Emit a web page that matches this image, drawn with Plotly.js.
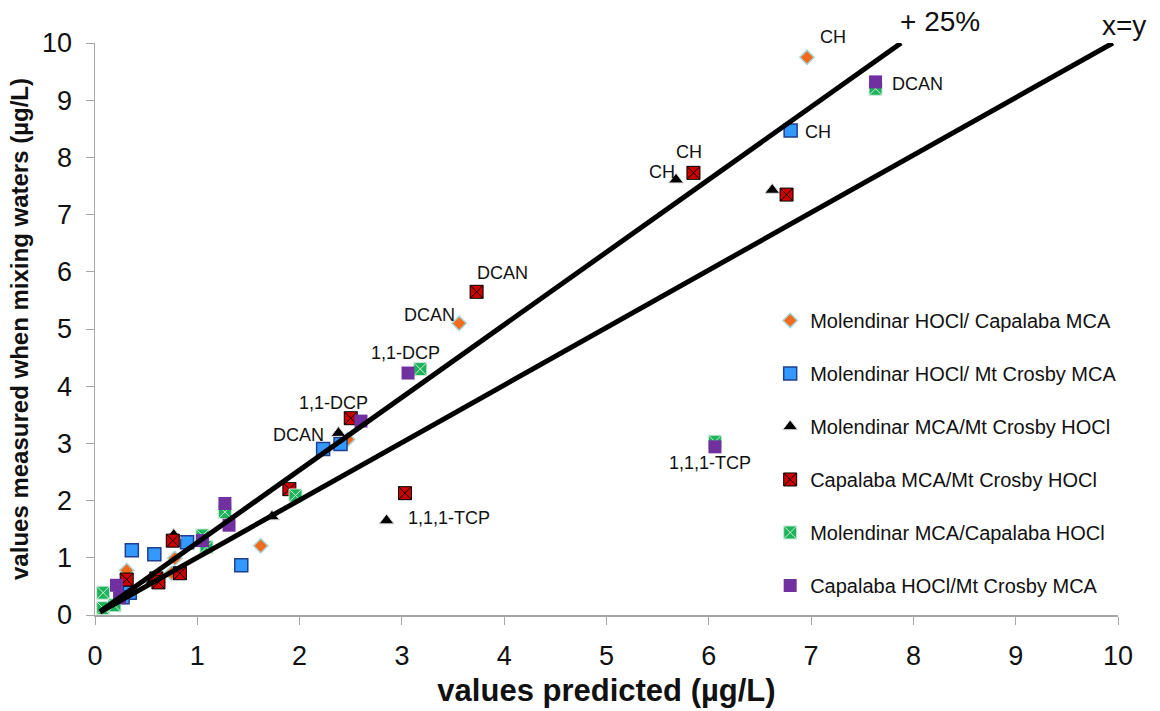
<!DOCTYPE html>
<html>
<head>
<meta charset="utf-8">
<script src="https://cdn.plot.ly/plotly-3.0.1.min.js"></script>
<style>html,body{margin:0;padding:0;background:#fff;}#chart{width:1160px;height:711px;}</style>
</head>
<body>
<div id="chart"></div>
<script>
// Series data (predicted, measured) in µg/L
const seriesNames = [
  "Molendinar HOCl/ Capalaba MCA",
  "Molendinar HOCl/ Mt Crosby MCA",
  "Molendinar MCA/Mt Crosby HOCl",
  "Capalaba MCA/Mt Crosby HOCl",
  "Molendinar MCA/Capalaba HOCl",
  "Capalaba HOCl/Mt Crosby MCA"
];
const orangeX = [6.96, 3.56, 1.62, 2.47, 0.31, 0.78, 0.75, 0.31];
const orangeY = [9.75, 5.10, 1.21, 3.07, 0.71, 0.99, 0.73, 0.78];
const blueX = [6.80, 2.23, 2.40, 0.36, 0.58, 0.90, 1.43, 0.34, 0.27];
const blueY = [8.47, 2.90, 2.99, 1.13, 1.06, 1.27, 0.87, 0.39, 0.31];
const triX = [5.68, 6.62, 2.38, 1.73, 2.85, 0.77, 0.56, 0.62];
const triY = [7.61, 7.43, 3.18, 1.72, 1.65, 1.40, 0.60, 0.62];
const redX = [5.85, 6.76, 3.73, 2.50, 1.90, 3.03, 0.76, 0.31, 0.60, 0.62, 0.83];
const redY = [7.73, 7.35, 5.65, 3.44, 2.20, 2.13, 1.30, 0.62, 0.64, 0.57, 0.73];
const greenX = [7.63, 3.18, 1.96, 6.06, 1.27, 1.05, 1.09, 0.08, 0.08, 0.19];
const greenY = [9.20, 4.30, 2.09, 3.03, 1.80, 1.39, 1.19, 0.39, 0.12, 0.17];
const purpleX = [7.63, 3.06, 2.60, 6.06, 1.27, 1.31, 1.05, 0.21, 0.24];
const purpleY = [9.32, 4.23, 3.39, 2.94, 1.95, 1.57, 1.30, 0.52, 0.30];

// Reference lines
const lineXYx = [0.05, 9.95];
const lineXYy = [0.05, 10.0];
const line25x = [0.05, 7.88];
const line25y = [0.06, 10.0];
// Line labels (paper coordinates, placed above the plot area)
const lineLabels = ["+ 25%", "x=y"];
const lineLabelX = [0.826, 1.006];
const lineLabelY = [1.037, 1.031];

// Point labels inside the plot (data coordinates)
const labelText = ["DCAN", "CH", "CH", "CH", "DCAN", "DCAN", "1,1-DCP", "1,1-DCP", "DCAN", "1,1,1-TCP", "1,1,1-TCP"];
const labelX = [8.04, 7.07, 5.81, 5.54, 3.98, 3.27, 3.04, 2.33, 1.99, 3.46, 6.01];
const labelY = [9.29, 8.45, 8.10, 7.75, 5.98, 5.25, 4.58, 3.70, 3.15, 1.69, 2.65];
// Point label above the plot area (paper coordinates)
const topLabelText = ["CH"];
const topLabelX = [0.721];
const topLabelY = [1.01];

const xTicks = [0,1,2,3,4,5,6,7,8,9,10];
const yTicks = [0,1,2,3,4,5,6,7,8,9,10];

const FONT = "Liberation Sans, Arial, sans-serif";

const styles = [
  {symbol: "diamond", size: 11, color: "#F26A1B", line: {color: "#A9D4D6", width: 1.5}},
  {symbol: "square", size: 13, color: "#3399FF", line: {color: "#1F3F8F", width: 1.5}},
  {symbol: "triangle-up", size: 13, color: "#000000", line: {color: "#DDDDDD", width: 1}},
  {symbol: "square-x", size: 13, color: "#CC0000", line: {color: "#000000", width: 1}},
  {symbol: "square-x", size: 13, color: "#1DB35C", line: {color: "#CDEBD6", width: 1}},
  {symbol: "square", size: 13, color: "#7030A0", line: {color: "#7030A0", width: 0}}
];
const xs = [orangeX, blueX, triX, redX, greenX, purpleX];
const ys = [orangeY, blueY, triY, redY, greenY, purpleY];

const traces = [];
for (let i = 0; i < 6; i++) {
  traces.push({
    type: "scatter", mode: "markers", name: seriesNames[i],
    x: xs[i], y: ys[i], legendgroup: "g" + i, cliponaxis: false,
    marker: {symbol: styles[i].symbol, size: styles[i].size, color: styles[i].color, line: styles[i].line}
  });
}
traces.push({type: "scatter", mode: "lines", x: lineXYx, y: lineXYy, showlegend: false, line: {color: "#000", width: 5}, hoverinfo: "skip"});
traces.push({type: "scatter", mode: "lines", x: line25x, y: line25y, showlegend: false, line: {color: "#000", width: 5}, hoverinfo: "skip"});

const annotations = [];
for (let i = 0; i < labelText.length; i++) {
  annotations.push({x: labelX[i], y: labelY[i], xref: "x", yref: "y", text: labelText[i], showarrow: false,
    xanchor: "center", yanchor: "middle",
    font: {family: FONT, size: 18, color: "#111"}});
}
for (let i = 0; i < topLabelText.length; i++) {
  annotations.push({x: topLabelX[i], y: topLabelY[i], xref: "paper", yref: "paper", text: topLabelText[i], showarrow: false,
    xanchor: "center", yanchor: "middle",
    font: {family: FONT, size: 18, color: "#111"}});
}
for (let i = 0; i < lineLabels.length; i++) {
  annotations.push({x: lineLabelX[i], y: lineLabelY[i], xref: "paper", yref: "paper", text: lineLabels[i], showarrow: false,
    xanchor: "center", yanchor: "middle",
    font: {family: FONT, size: 28, color: "#111"}});
}

const layout = {
  width: 1160, height: 711,
  margin: {l: 95, r: 42, t: 43, b: 96},
  paper_bgcolor: "#fff", plot_bgcolor: "#fff",
  font: {family: FONT, color: "#111"},
  showlegend: true,
  legend: {x: 0.66, xanchor: "left", y: 0.549, yanchor: "top", font: {family: FONT, size: 20, color: "#111"},
    tracegroupgap: 24, bgcolor: "rgba(0,0,0,0)", itemwidth: 30},
  xaxis: {range: [0, 10], tickvals: xTicks, ticktext: xTicks.map(String), showgrid: false, zeroline: false,
    showline: true, linecolor: "#A6A6A6", linewidth: 1.5, ticks: "outside", ticklen: 8, tickcolor: "#A6A6A6",
    ticklabelstandoff: 8,
    tickfont: {family: FONT, size: 27, color: "#111"},
    title: {text: "<b>values predicted (µg/L)</b>", font: {family: FONT, size: 31, color: "#111"}, standoff: 9}},
  yaxis: {range: [0, 10], tickvals: yTicks, ticktext: yTicks.map(String), showgrid: false, zeroline: false,
    showline: true, linecolor: "#A6A6A6", linewidth: 1.5, ticks: "outside", ticklen: 8, tickcolor: "#A6A6A6",
    ticklabelstandoff: 8,
    tickfont: {family: FONT, size: 27, color: "#111"},
    title: {text: "<b>values measured when mixing waters (µg/L)</b>", font: {family: FONT, size: 24, color: "#111"}, standoff: 6}},
  annotations: annotations
};

Plotly.newPlot("chart", traces, layout, {staticPlot: true, displayModeBar: false});
</script>
</body>
</html>
